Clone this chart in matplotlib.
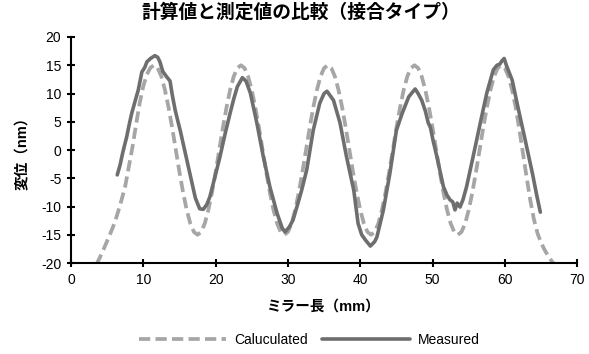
import numpy as np
import matplotlib
matplotlib.use('Agg')
import matplotlib.pyplot as plt

plt.rcParams['font.family'] = ['Liberation Sans', 'Noto Sans CJK JP', 'DejaVu Sans']
plt.rcParams['axes.unicode_minus'] = False

# Calculated curve, sampled every 0.5 mm from 3.5 mm to 67 mm
calc_x = np.arange(3.5, 67.25, 0.5)
calc_y = [
    -20.3, -19.0, -17.6, -16.1, -14.6, -13.0, -11.0, -8.8, -6.4, -3.0, 0.5, 4.5,
    8.3, 11.3, 13.4, 14.6, 15.0, 14.5, 13.0, 10.6, 7.5, 3.9, 0.0, -3.9,
    -7.5, -10.6, -13.0, -14.5, -15.0, -14.5, -13.0, -10.6, -7.5, -3.9, 0.0, 3.9,
    7.5, 10.6, 13.0, 14.5, 15.0, 14.5, 13.0, 10.6, 7.5, 3.9, 0.0, -3.9,
    -7.5, -10.6, -13.0, -14.5, -15.0, -14.5, -13.0, -10.6, -7.5, -3.9, 0.0, 3.9,
    7.5, 10.6, 13.0, 14.5, 15.0, 14.5, 13.0, 10.6, 7.5, 3.9, 0.0, -3.9,
    -7.5, -10.6, -13.0, -14.5, -15.0, -14.5, -13.0, -10.6, -7.5, -3.9, 0.0, 3.9,
    7.5, 10.6, 13.0, 14.5, 15.0, 14.5, 13.0, 10.6, 7.5, 3.9, 0.0, -3.9,
    -7.5, -10.6, -13.0, -14.5, -15.0, -14.5, -13.0, -10.6, -7.5, -3.9, 0.0, 3.9,
    7.5, 10.6, 13.0, 14.5, 15.0, 14.5, 13.0, 10.6, 7.5, 3.6, -0.6, -4.8,
    -8.8, -12.2, -14.7, -16.4, -17.7, -18.8, -19.7, -20.6,
]

# Measured curve
meas_x = [6.4, 6.8, 7.1, 7.4, 7.7, 8.1, 8.4, 8.9, 9.3, 9.6, 9.8, 10.2, 10.5,
          11.0, 11.6, 12.0, 12.3, 12.7, 13.2, 13.7, 14.0, 14.4, 14.8, 15.1,
          15.8, 16.5, 17.2, 17.8, 18.3, 18.8, 19.2, 19.9, 20.6, 21.3, 22.0,
          22.5, 23.0, 23.7, 24.2, 24.8, 25.7, 26.6, 27.5, 28.5, 29.2, 29.6,
          30.2, 30.7, 31.3, 31.9, 32.6, 33.5, 34.4, 35.0, 35.4, 36.3, 37.2,
          38.1, 39.1, 39.7, 40.2, 40.7, 41.4, 42.0, 42.3, 43.2, 44.1, 45.0,
          45.8, 46.7, 47.2, 47.6, 48.0, 48.5, 49.0, 49.4, 49.7, 50.1, 50.6,
          51.5, 52.0, 52.4, 52.8, 53.1, 53.4, 53.8, 54.2, 54.7, 55.6, 56.6,
          57.5, 58.4, 58.9, 59.3, 59.6, 59.9, 60.2, 61.0, 61.8, 62.8, 63.8,
          64.4, 64.9]
meas_y = [-4.4, -2.6, -0.8, 0.8, 2.3, 4.8, 6.5, 8.8, 10.6, 12.5, 13.8, 14.6, 15.6,
          16.2, 16.7, 16.4, 15.6, 13.9, 13.0, 12.2, 9.8, 7.1, 5.0, 3.5,
          -0.5, -4.5, -8.5, -10.4, -10.5, -9.6, -8.3, -4.8, -1.2, 2.8, 6.5,
          9.0, 11.2, 12.8, 12.2, 10.1, 4.8, -1.2, -6.5, -11.2, -13.8, -14.5,
          -13.6, -12.4, -9.8, -7.1, -3.5, 3.5, 8.3, 10.0, 10.4, 8.8, 4.8,
          -1.2, -7.1, -13.0, -15.0, -15.9, -17.0, -16.2, -15.4, -10.6, -4.1, 3.5,
          6.5, 9.4, 10.2, 10.8, 10.0, 8.8, 6.9, 4.8, 4.0, 1.5, -1.2,
          -6.5, -8.0, -8.8, -9.2, -10.6, -9.4, -10.1, -8.8, -6.5, -1.2, 4.8,
          10.1, 14.2, 15.0, 15.2, 15.8, 16.2, 15.0, 12.4, 7.6, 1.8, -4.1,
          -8.0, -11.0]

fig = plt.figure(figsize=(5.89, 3.54), dpi=100)
ax = fig.add_axes([0.1205, 0.257, 0.8595, 0.6385])

ax.plot(calc_x, calc_y, color='#a6a6a6', lw=2.7, dashes=(3.0, 1.4),
        label='Caluculated', solid_capstyle='butt')
ax.plot(meas_x, meas_y, color='#6e6e6e', lw=2.6, label='Measured',
        solid_joinstyle='round', solid_capstyle='round')

ax.set_xlim(0, 70)
ax.set_ylim(-20, 20)
ax.set_xticks(range(0, 71, 10))
ax.set_yticks(range(-20, 21, 5))

for side in ['top', 'right']:
    ax.spines[side].set_visible(False)
for side in ['left', 'bottom']:
    ax.spines[side].set_linewidth(1.5)
ax.tick_params(direction='inout', length=6, width=1.5, labelsize=10, pad=4)

ax.set_xlabel('ミラー長（mm）', fontsize=10.5, fontweight='bold', labelpad=9)
ax.set_ylabel('変位（nm）', fontsize=10.5, fontweight='bold', labelpad=8)
fig.suptitle('計算値と測定値の比較（接合タイプ）', fontsize=13.5,
             fontweight='bold', x=0.51, y=0.99)

fig.legend(loc='center', bbox_to_anchor=(0.525, 0.04), ncol=2, frameon=False,
           handlelength=6.3, fontsize=10, columnspacing=1.0, handletextpad=0.6)

fig.savefig('out.png', dpi=100)
